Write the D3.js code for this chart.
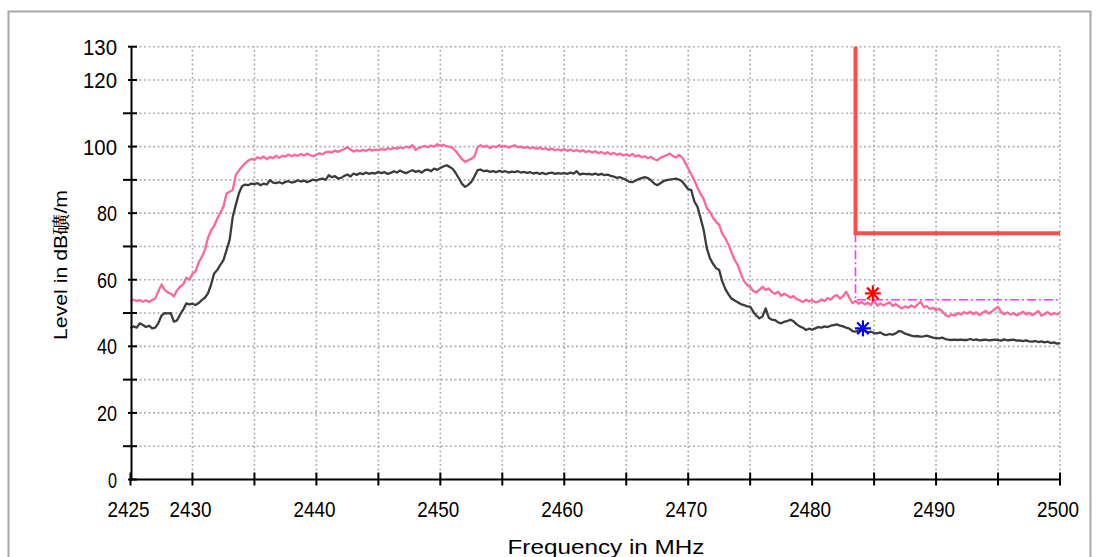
<!DOCTYPE html>
<html>
<head>
<meta charset="utf-8">
<script src="https://cdn.jsdelivr.net/npm/d3@7"></script>
<style>
html,body{margin:0;padding:0;background:#fff;}
svg{display:block;}
text{font-family:"Liberation Sans",Arial,sans-serif;fill:#000;}
</style>
</head>
<body>
<svg id="chart" width="1100" height="557"></svg>
<script>
// ---------- data ----------
const freqStart = 2425;
const freqStep = 0.25;   // MHz between samples
// Peak trace (pink), dBuV/m, one row per MHz (x.00, x.25, x.50, x.75)
const peakValues = [
  53.5,54.0,53.6,53.9, // 2425
  53.4,53.8,53.3,53.9, // 2426
  54.4,56.5,58.6,57.0, // 2427
  56.2,55.8,55.0,56.8, // 2428
  57.9,58.6,60.6,60.0, // 2429
  61.8,62.5,65.2,66.8, // 2430
  68.9,72.6,74.8,76.2, // 2431
  78.3,80.1,82.0,85.9, // 2432
  86.4,87.0,91.5,92.8, // 2433
  94.0,95.0,95.8,96.3, // 2434
  96.0,96.8,96.4,97.0, // 2435
  96.2,96.9,96.5,97.3, // 2436
  96.6,97.2,97.0,97.6, // 2437
  97.1,97.5,97.2,97.8, // 2438
  97.3,97.9,97.4,97.1, // 2439
  97.6,98.0,97.7,98.3, // 2440
  98.5,98.2,98.8,98.4, // 2441
  98.9,99.2,99.9,99.1, // 2442
  98.5,98.9,98.6,99.0, // 2443
  98.7,99.2,98.8,99.1, // 2444
  98.9,99.3,99.0,99.5, // 2445
  99.2,99.6,99.4,99.8, // 2446
  99.5,100.0,99.7,100.4, // 2447
  99.0,99.6,99.9,100.2, // 2448
  99.8,100.3,100.0,100.7, // 2449
  100.2,100.5,100.1,99.9, // 2450
  99.6,98.6,97.4,96.2, // 2451
  95.4,95.9,96.3,97.0, // 2452
  99.8,100.4,99.9,100.3, // 2453
  99.5,100.1,99.8,100.4, // 2454
  99.9,100.2,99.7,100.1, // 2455
  100.4,99.8,100.0,99.6, // 2456
  99.9,99.5,99.8,99.3, // 2457
  99.7,99.2,99.5,99.0, // 2458
  99.4,98.9,99.2,98.8, // 2459
  99.3,98.7,99.1,98.6, // 2460
  99.0,98.5,98.9,98.3, // 2461
  98.7,98.2,98.6,98.0, // 2462
  98.4,97.8,98.3,97.7, // 2463
  98.1,97.5,97.9,97.3, // 2464
  97.7,97.2,97.8,97.0, // 2465
  97.4,96.8,97.1,96.5, // 2466
  96.9,96.2,95.9,96.6, // 2467
  97.0,97.4,97.9,97.2, // 2468
  96.7,97.5,96.8,95.2, // 2469
  93.4,91.6,89.8,87.6, // 2470
  85.8,84.2,81.5,80.4, // 2471
  78.6,77.4,76.5,73.8, // 2472
  72.4,70.6,68.2,66.0, // 2473
  64.4,61.8,59.6,58.4, // 2474
  57.8,56.6,56.2,57.0, // 2475
  57.9,56.9,57.4,56.3, // 2476
  55.8,56.4,55.2,55.8, // 2477
  55.3,54.6,55.1,54.2, // 2478
  53.8,53.3,54.0,53.5, // 2479
  53.9,53.2,53.4,54.1, // 2480
  53.6,54.5,54.0,55.0, // 2481
  55.4,54.3,55.1,56.4, // 2482
  54.6,53.0,53.6,52.8, // 2483
  53.3,52.6,53.1,52.4, // 2484
  54.0,52.2,52.9,52.3, // 2485
  52.8,53.2,52.1,52.7, // 2486
  51.9,51.4,52.0,51.6, // 2487
  52.3,51.7,52.5,53.4, // 2488
  51.8,52.1,51.2,51.6, // 2489
  50.9,51.3,50.5,49.4, // 2490
  48.9,49.6,49.2,50.0, // 2491
  49.5,50.3,49.8,50.4, // 2492
  49.7,50.2,49.4,50.1, // 2493
  50.6,49.8,50.5,51.2, // 2494
  51.9,50.3,49.6,50.2, // 2495
  49.5,50.0,49.3,49.8, // 2496
  50.4,49.6,50.1,49.4, // 2497
  49.9,50.6,49.2,49.7, // 2498
  50.3,49.5,50.0,49.6, // 2499
  50.0                 // 2500
];
// Average trace (dark grey)
const avgValues = [
  45.4,46.0,45.6,46.9, // 2425
  46.4,45.8,46.2,45.4, // 2426
  45.6,47.0,49.2,50.0, // 2427
  49.9,50.0,47.4,47.8, // 2428
  49.5,51.0,52.9,52.6, // 2429
  52.8,52.4,53.0,53.9, // 2430
  54.6,55.9,58.5,61.9, // 2431
  62.9,64.5,65.9,68.9, // 2432
  72.0,78.9,82.5,86.0, // 2433
  88.1,88.6,88.4,88.9, // 2434
  88.7,89.0,88.4,88.9, // 2435
  88.6,89.9,89.2,89.0, // 2436
  89.3,88.9,89.4,89.6, // 2437
  89.2,89.4,89.9,89.5, // 2438
  89.8,89.3,89.7,90.1, // 2439
  89.8,90.2,90.4,90.0, // 2440
  91.4,90.8,91.1,90.4, // 2441
  90.6,91.2,91.6,91.0, // 2442
  91.9,91.5,92.0,91.7, // 2443
  92.2,91.8,92.1,91.9, // 2444
  92.4,92.0,92.3,91.8, // 2445
  92.1,92.6,92.2,92.8, // 2446
  92.3,92.0,92.5,92.9, // 2447
  92.4,92.7,92.2,92.9, // 2448
  93.1,92.6,93.4,93.0, // 2449
  93.6,94.0,94.4,93.9, // 2450
  93.3,92.0,90.4,88.8, // 2451
  87.9,88.5,89.4,91.0, // 2452
  92.9,93.1,92.6,92.8, // 2453
  92.4,92.6,92.3,92.7, // 2454
  92.4,92.6,92.2,92.5, // 2455
  92.3,92.6,92.2,92.4, // 2456
  92.1,92.3,91.9,92.2, // 2457
  91.8,92.1,91.7,92.0, // 2458
  92.2,91.8,92.0,91.9, // 2459
  92.0,91.8,92.2,91.9, // 2460
  92.6,91.6,91.9,91.7, // 2461
  91.8,91.6,91.9,91.5, // 2462
  91.8,91.4,91.6,91.2, // 2463
  91.0,90.6,90.8,90.4, // 2464
  90.0,89.4,89.3,89.8, // 2465
  90.2,90.5,90.8,90.5, // 2466
  89.9,88.9,88.4,89.0, // 2467
  89.6,89.9,90.1,90.2, // 2468
  90.4,90.1,89.6,88.4, // 2469
  87.2,86.9,83.5,81.9, // 2470
  78.5,74.9,69.5,66.5, // 2471
  64.8,63.5,62.9,59.5, // 2472
  57.2,55.6,54.3,53.8, // 2473
  53.2,52.7,52.4,52.0, // 2474
  51.9,50.4,49.2,48.4, // 2475
  49.0,51.4,48.6,48.0, // 2476
  47.9,47.2,46.9,47.4, // 2477
  47.6,48.0,47.5,46.6, // 2478
  46.0,45.6,44.9,45.3, // 2479
  45.0,45.4,45.8,45.6, // 2480
  46.0,45.8,46.2,46.4, // 2481
  46.6,46.2,46.0,45.6, // 2482
  45.3,44.6,44.4,44.8, // 2483
  45.0,44.6,44.2,44.4, // 2484
  44.0,43.9,44.2,43.6, // 2485
  43.4,43.7,43.5,43.9, // 2486
  44.6,44.4,43.8,43.5, // 2487
  43.2,43.0,43.1,42.9, // 2488
  43.0,43.2,42.9,42.6, // 2489
  42.5,42.4,42.6,42.2, // 2490
  42.0,41.9,42.0,41.9, // 2491
  42.0,41.9,41.9,42.2, // 2492
  41.9,42.1,41.8,41.9, // 2493
  42.0,41.8,41.9,42.0, // 2494
  41.9,41.7,42.1,41.8, // 2495
  41.9,42.0,41.7,41.8, // 2496
  41.6,41.8,41.5,41.4, // 2497
  41.6,41.3,41.5,41.2, // 2498
  41.4,41.0,41.2,40.8, // 2499
  41.0                 // 2500
];
// Limit lines [freq, level]
const peakLimit = [[2483.5,130],[2483.5,74],[2500,74]];
const avgLimit  = [[2483.5,74],[2483.5,54],[2500,54]];
// Markers [freq, level]
const peakMarker = [2484.9, 55.9];
const avgMarker  = [2484.1, 45.4];
// Axes
const xDomain = [2425, 2500];
const yDomain = [0, 130];
const xTickValues = d3.range(2425, 2501, 5);
const xLabelValues = [2425,2430,2440,2450,2460,2470,2480,2490,2500];
const yTickValues = d3.range(0, 131, 10);
const yLabelValues = [0,20,40,60,80,100,120,130];
const xTitle = "Frequency in MHz";
const yTitle = "Level in dB礦/m";

// ---------- drawing ----------
const svg = d3.select("#chart");
const x = d3.scaleLinear().domain(xDomain).range([130.5, 1060]);
const y = d3.scaleLinear().domain(yDomain).range([479.5, 46.7]);

// outer frame
svg.append("rect").attr("x",8.5).attr("y",11.5).attr("width",1082).attr("height",600)
  .attr("fill","#fff").attr("stroke","#a8a8a8").attr("stroke-width",2);

// grid
const grid = svg.append("g").attr("stroke","#b0b0b0").attr("stroke-width",1.6)
  .attr("stroke-dasharray","2,2.5");
yTickValues.filter(v=>v>0).forEach(v=>{
  grid.append("line").attr("x1",x(xDomain[0])).attr("x2",x(xDomain[1]))
    .attr("y1",y(v)).attr("y2",y(v));
});
xTickValues.filter(v=>v>xDomain[0]).forEach(v=>{
  grid.append("line").attr("x1",x(v)).attr("x2",x(v))
    .attr("y1",y(yDomain[0])).attr("y2",y(yDomain[1]));
});

// traces
const freqOf = i => freqStart + i*freqStep;
const line = d3.line().x((d,i)=>x(freqOf(i))).y(d=>y(d));
svg.append("path").datum(avgValues).attr("d",line)
  .attr("fill","none").attr("stroke","#3c3c3c").attr("stroke-width",2.3).attr("stroke-linejoin","round");
svg.append("path").datum(peakValues).attr("d",line)
  .attr("fill","none").attr("stroke","#ff6699").attr("stroke-width",2.3).attr("stroke-linejoin","round");

// limits
const lline = d3.line().x(d=>x(d[0])).y(d=>y(d[1]));
svg.append("path").datum(avgLimit).attr("d",lline).attr("fill","none")
  .attr("stroke","#ff33ff").attr("stroke-width",1.6).attr("stroke-dasharray","9,3,2,3");
svg.append("path").datum(peakLimit).attr("d",lline).attr("fill","none")
  .attr("stroke","#ff4d4d").attr("stroke-width",4);

// markers (asterisks)
function asterisk(p, color){
  const cx = x(p[0]), cy = y(p[1]), r = 8, d = r*0.72;
  const g = svg.append("g").attr("stroke",color).attr("stroke-width",2.2);
  g.append("line").attr("x1",cx-r).attr("x2",cx+r).attr("y1",cy).attr("y2",cy);
  g.append("line").attr("x1",cx).attr("x2",cx).attr("y1",cy-r).attr("y2",cy+r);
  g.append("line").attr("x1",cx-d).attr("x2",cx+d).attr("y1",cy-d).attr("y2",cy+d);
  g.append("line").attr("x1",cx-d).attr("x2",cx+d).attr("y1",cy+d).attr("y2",cy-d);
}
asterisk(peakMarker, "#ff0000");
asterisk(avgMarker, "#0000ff");

// axes
const ax = svg.append("g").attr("stroke","#000").attr("stroke-width",2);
ax.append("line").attr("x1",x(xDomain[0])+1).attr("x2",x(xDomain[0])+1)
  .attr("y1",y(yDomain[1])).attr("y2",y(yDomain[0])+1);
ax.append("line").attr("x1",x(xDomain[0])).attr("x2",x(xDomain[1]))
  .attr("y1",y(yDomain[0])).attr("y2",y(yDomain[0]));
yTickValues.forEach(v=>{
  const major = yLabelValues.includes(v);
  ax.append("line").attr("x1", major ? 128 : 123).attr("x2",137)
    .attr("y1",y(v)).attr("y2",y(v));
});
xTickValues.forEach(v=>{
  ax.append("line").attr("x1",x(v)).attr("x2",x(v))
    .attr("y1",y(0)-7).attr("y2",y(0)+6);
});

// tick labels
const labelW = s => ({1:9,2:20,3:34,4:42})[String(s).length];
yLabelValues.forEach(v=>{
  svg.append("text").attr("x",117).attr("y",y(v)+8)
    .attr("text-anchor","end").attr("font-size",22)
    .attr("textLength",labelW(v)).attr("lengthAdjust","spacingAndGlyphs")
    .text(v);
});
xLabelValues.forEach(v=>{
  svg.append("text").attr("x",x(v)-2).attr("y",516.5)
    .attr("text-anchor","middle").attr("font-size",22)
    .attr("textLength",labelW(v)).attr("lengthAdjust","spacingAndGlyphs")
    .text(v);
});

// titles
svg.append("text").attr("x",606).attr("y",553.5).attr("text-anchor","middle")
  .attr("font-size",21).attr("textLength",197).attr("lengthAdjust","spacingAndGlyphs")
  .text(xTitle);
svg.append("text").attr("transform","translate(67,265) rotate(-90)")
  .attr("text-anchor","middle").attr("font-size",18)
  .attr("textLength",150).attr("lengthAdjust","spacingAndGlyphs")
  .text(yTitle);
</script>
</body>
</html>
